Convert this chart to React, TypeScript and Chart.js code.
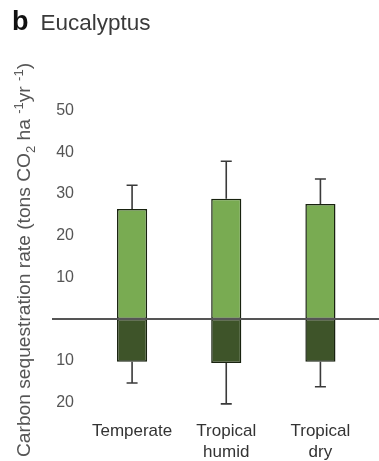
import React, { useEffect, useRef } from "react";
import { Chart, registerables } from "chart.js";

Chart.register(...registerables);

const categories: string[][] = [["Temperate"], ["Tropical", "humid"], ["Tropical", "dry"]];
const uptake: number[] = [26.4, 28.9, 27.6];
const uptakeErr: number[] = [32.1, 37.9, 33.6];
const emission: number[] = [-10.3, -10.6, -10.3];
const emissionErr: number[] = [-15.4, -20.4, -16.3];
const yTicks: number[] = [-20, -10, 10, 20, 30, 40, 50];

const FONT = "'Liberation Sans', Arial, sans-serif";

const errorBarPlugin = {
  id: "errorBars",
  afterDatasetsDraw(chart: any) {
    const ctx = chart.ctx;
    const y = chart.scales.y;
    const errs = [uptakeErr, emissionErr];
    ctx.save();
    ctx.strokeStyle = "#3a3a3a";
    ctx.lineWidth = 1.6;
    errs.forEach((arr, di) => {
      const meta = chart.getDatasetMeta(di);
      meta.data.forEach((bar: any, i: number) => {
        const ye = y.getPixelForValue(arr[i]);
        ctx.beginPath();
        ctx.moveTo(bar.x, bar.y);
        ctx.lineTo(bar.x, ye);
        ctx.moveTo(bar.x - 5.5, ye);
        ctx.lineTo(bar.x + 5.5, ye);
        ctx.stroke();
      });
    });
    // zero line
    const y0 = y.getPixelForValue(0);
    ctx.strokeStyle = "#555555";
    ctx.lineWidth = 2;
    ctx.beginPath();
    ctx.moveTo(chart.chartArea.left - 33, y0);
    ctx.lineTo(chart.width, y0);
    ctx.stroke();
    ctx.restore();
  },
};

export default function App() {
  const ref = useRef<HTMLCanvasElement | null>(null);
  useEffect(() => {
    if (!ref.current) return;
    const chart = new Chart(ref.current, {
      type: "bar",
      data: {
        labels: categories,
        datasets: [
          {
            data: uptake,
            backgroundColor: "#79ab52",
            borderColor: "#18220f",
            borderWidth: 1.5,
            borderSkipped: false,
            barPercentage: 0.32,
            categoryPercentage: 1,
          },
          {
            data: emission,
            backgroundColor: "#3e5429",
            borderColor: "#18220f",
            borderWidth: 1.5,
            borderSkipped: false,
            barPercentage: 0.32,
            categoryPercentage: 1,
          },
        ],
      },
      options: {
        animation: false,
        responsive: false,
        maintainAspectRatio: false,
        layout: { padding: { left: 0, right: 11.5, top: 90, bottom: 0 } },
        plugins: { legend: { display: false }, tooltip: { enabled: false }, title: { display: false } },
        scales: {
          x: {
            stacked: true,
            grid: { display: false },
            border: { display: false },
            ticks: {
              color: "#333333",
              font: { family: FONT, size: 17, lineHeight: 1.2 },
              padding: 3,
              maxRotation: 0,
            },
            afterFit: (s: any) => {
              s.height = 50.5;
            },
          },
          y: {
            stacked: true,
            min: -22,
            max: 55,
            grid: { display: false },
            border: { display: false },
            afterBuildTicks: (s: any) => {
              s.ticks = yTicks.map((v) => ({ value: v }));
            },
            ticks: {
              color: "#555555",
              font: { family: FONT, size: 16 },
              padding: 3,
              callback: (v: any) => String(Math.abs(Number(v))),
            },
            afterFit: (s: any) => {
              s.width = 85;
            },
          },
        },
      },
      plugins: [errorBarPlugin],
    });
    return () => chart.destroy();
  }, []);

  return (
    <div style={{ position: "absolute", left: 0, top: 0, width: 379, height: 461, background: "#fff", overflow: "hidden" }}>
      <canvas ref={ref} width={379} height={461} style={{ position: "absolute", left: 0, top: 0 }} />
      <div style={{ position: "absolute", left: 12, top: 6, fontFamily: FONT, whiteSpace: "nowrap", lineHeight: "30px" }}>
        <span style={{ fontWeight: "bold", fontSize: 27, color: "#111" }}>b</span>
        <span style={{ fontSize: 22.5, color: "#3a3a3a", marginLeft: 12 }}>Eucalyptus</span>
      </div>
      <div
        style={{
          position: "absolute",
          left: 24 - 220,
          top: 260 - 12,
          width: 440,
          height: 24,
          lineHeight: "24px",
          textAlign: "center",
          whiteSpace: "nowrap",
          fontFamily: FONT,
          fontSize: 19.2,
          color: "#555",
          transform: "rotate(-90deg)",
          transformOrigin: "center center",
        }}
      >
        Carbon sequestration rate (tons CO<sub style={{ fontSize: 13, lineHeight: 0 }}>2</sub> ha <sup style={{ fontSize: 13, lineHeight: 0 }}>-1</sup>yr <sup style={{ fontSize: 13, lineHeight: 0 }}>-1</sup>)
      </div>
    </div>
  );
}
